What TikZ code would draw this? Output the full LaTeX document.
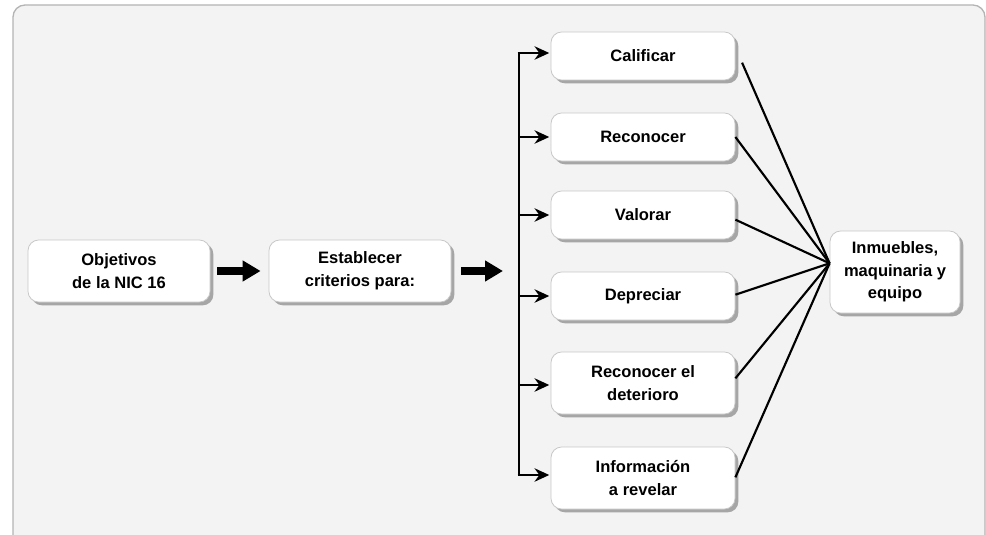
\documentclass[tikz,border=0pt]{standalone}
\usepackage{fontspec}
\setmainfont{Liberation Sans}
\usetikzlibrary{
  positioning,
  arrows.meta,
  shadows
}
\definecolor{bggray}{HTML}{F3F3F3}
\definecolor{framegray}{HTML}{B4B4B4}
\definecolor{boxgray}{HTML}{C8C8C8}
\tikzstyle{box}=[draw=boxgray, fill=white, rounded corners=8pt, line width=0.6pt,
  align=center, font=\fontsize{12.4}{17}\bfseries\selectfont,
  drop shadow={shadow xshift=2.5pt, shadow yshift=-2.5pt, fill=black!35, opacity=1}]
\tikzstyle{bigarrow}=[-{Triangle[length=13.5pt, width=15pt]}, line width=6pt]
\tikzstyle{branch}=[-{Stealth[length=11pt, width=10pt]}, line width=2pt]
\tikzstyle{link}=[line width=1.6pt]

\begin{document}
\begin{tikzpicture}[x=0.75pt, y=-0.75pt]
    \useasboundingbox (0,0) rectangle (986,535);

    % 背景
    \draw[fill=bggray, draw=framegray, line width=1pt, rounded corners=9pt] (13,5) rectangle (985,548);

    % 左側の箱
    \node[box, minimum width=136.5pt, minimum height=46.5pt] (obj) at (119,271) {Objetivos\\de la NIC 16};
    \node[box, minimum width=136.5pt, minimum height=46.5pt] (crit) at (360,271) {Establecer\\criterios para:};

    % 右側の箱
    \node[box, minimum width=138pt, minimum height=36pt] (calif) at (643,56) {Calificar};
    \node[box, minimum width=138pt, minimum height=36pt] (recon) at (643,137) {Reconocer};
    \node[box, minimum width=138pt, minimum height=36pt] (valor) at (643,215) {Valorar};
    \node[box, minimum width=138pt, minimum height=36pt] (deprec) at (643,296) {Depreciar};
    \node[box, minimum width=138pt, minimum height=46.5pt] (deter) at (643,383) {Reconocer el\\deterioro};
    \node[box, minimum width=138pt, minimum height=46.5pt] (info) at (643,478) {Información\\a revelar};

    % 対象の箱
    \node[box, minimum width=97.5pt, minimum height=61.5pt] (inm) at (895,272) {Inmuebles,\\maquinaria y\\equipo};

    % 分岐線
    \coordinate (bt) at (519,53);
    \coordinate (bb) at (519,475);
    \draw[line width=2.2pt] (bt) -- (bb);

    % 太い矢印
    \draw[bigarrow] ([xshift=5pt]obj.east) -- ([xshift=-6pt]crit.west);
    \draw[bigarrow] ([xshift=7.5pt]crit.east) -- ([xshift=-12pt]bt |- crit.east);

    % 分岐の矢印
    \draw[branch] ([xshift=-1.1pt]bt) -- ([xshift=-1pt]bt -| calif.west);
    \foreach \n in {recon, valor, deprec}
      \draw[branch] (bt |- \n.west) -- ([xshift=-1pt]\n.west);
    \coordinate (dt) at ([xshift=-1pt, yshift=-1.5pt]deter.west);
    \draw[branch] (bt |- dt) -- (dt);
    \draw[branch] ([xshift=-1.1pt]bb) -- ([xshift=-1pt]bb -| info.west);

    % 集まる線
    \coordinate (hub) at ([yshift=6.5pt]inm.west);
    \draw[link] ([xshift=5pt, yshift=-5pt]calif.east) -- (hub);
    \draw[link] (recon.east) -- (hub);
    \draw[link] ([yshift=-3.5pt]valor.east) -- (hub);
    \draw[link] ([yshift=1pt]deprec.east) -- (hub);
    \draw[link] ([yshift=3.5pt]deter.east) -- (hub);
    \draw[link] ([yshift=0.5pt]info.east) -- (hub);
  \end{tikzpicture}
\end{document}
